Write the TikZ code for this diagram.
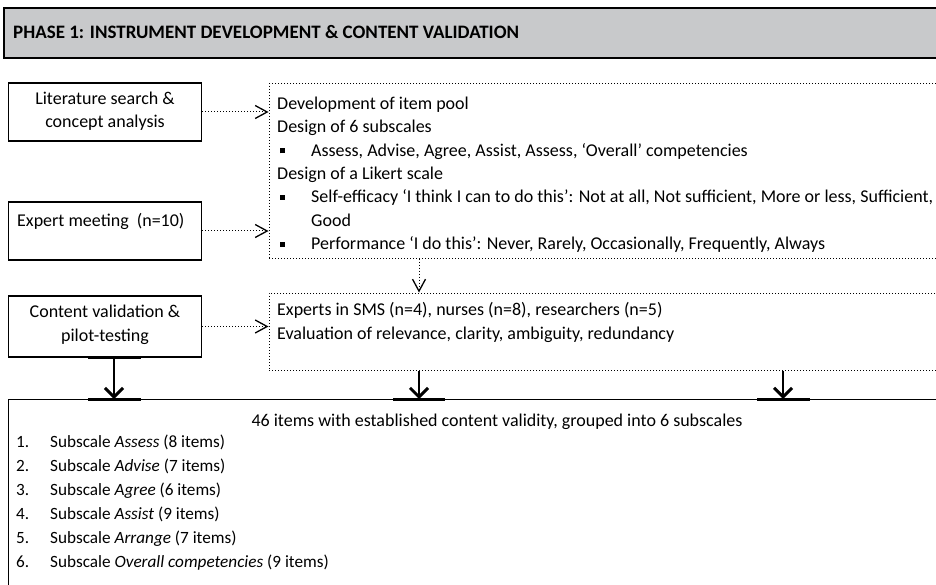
\documentclass[tikz,border=0pt]{standalone}
\usepackage{fontspec}
\setmainfont{Carlito}
\usetikzlibrary{arrows.meta}
\tikzset{
  solidbox/.style={draw=black, line width=1.4pt},
  dotbox/.style={draw=black, line width=1pt, dotted},
  txt/.style={anchor=base west, inner sep=0pt, font=\fontsize{18}{20}\selectfont},
  ctxt/.style={anchor=base, inner sep=0pt, font=\fontsize{18}{20}\selectfont},
  itxt/.style={anchor=base west, inner sep=0pt, font=\fontsize{17.2}{20}\selectfont},
  dotarrow/.style={line width=1pt, dotted, -{Straight Barb[length=12pt,width=13pt,line width=1.3pt]}},
  bigarrow/.style={line width=2.5pt, -{Straight Barb[length=9pt,width=18pt,line width=3pt]}},
  bar/.style={line width=3pt},
  bul/.style={anchor=base west, inner sep=0pt},
}
\newcommand{\sqbul}{\rule[3pt]{5pt}{5pt}}
\begin{document}
\begin{tikzpicture}[x=1pt,y=-1pt]
\useasboundingbox (0,0) rectangle (936,585);
% header
\path[fill={rgb,255:red,200;green,201;blue,203}, draw=black, line width=1.4pt] (4,8) rectangle (945,58);
\node[anchor=base west, inner sep=0pt, font=\fontsize{19}{22}\selectfont\bfseries] (hdr) at (13,39) {PHASE 1: INSTRUMENT DEVELOPMENT \& CONTENT VALIDATION};
% left boxes
\node[solidbox, minimum width=193pt, minimum height=58pt, inner sep=0pt] (lit) at (105,112) {};
\node[ctxt] (lit1) at (105,105) {Literature search \&};
\node[ctxt] (lit2) at (105,128) {concept analysis};
\node[solidbox, minimum width=193pt, minimum height=58pt, inner sep=0pt] (exp) at (105,231) {};
\node[txt] (exp1) at (17,226) {Expert meeting\ \ (n=10)};
\node[solidbox, minimum width=193pt, minimum height=61pt, inner sep=0pt] (cv) at (105,326.5) {};
\node[ctxt] (cv1) at (105,317) {Content validation \&};
\node[ctxt] (cv2) at (105,341) {pilot-testing};
% dotted boxes
\node[dotbox, minimum width=677pt, minimum height=174pt, inner sep=0pt] (dev) at (607.5,171) {};
\node[txt] (d1) at (277,109.5) {Development of item pool};
\node[txt] (d2) at (277,133) {Design of 6 subscales};
\node[bul] (b1) at (280,156.3) {\sqbul};
\node[txt] (d3) at (311,156.3) {Assess, Advise, Agree, Assist, Assess, ‘Overall’ competencies};
\node[txt] (d4) at (277,179.6) {Design of a Likert scale};
\node[bul] (b2) at (280,203) {\sqbul};
\node[txt] (d5) at (311,203) {Self-efficacy ‘I think I can to do this’: Not at all, Not sufficient, More or less, Sufficient,};
\node[txt] (d6) at (311,226.3) {Good};
\node[bul] (b3) at (280,249.6) {\sqbul};
\node[txt] (d7) at (311,249.6) {Performance ‘I do this’: Never, Rarely, Occasionally, Frequently, Always};
\node[dotbox, minimum width=677pt, minimum height=77pt, inner sep=0pt] (val) at (607.5,331.5) {};
\node[txt] (v1) at (277,315) {Experts in SMS (n=4), nurses (n=8), researchers (n=5)};
\node[txt] (v2) at (277,339) {Evaluation of relevance, clarity, ambiguity, redundancy};
% result box
\node[solidbox, minimum width=937pt, minimum height=200pt, inner sep=0pt, anchor=north west] (res) at (8,399) {};
\node[ctxt] (r0) at (497,426.5) {46 items with established content validity, grouped into 6 subscales};
\node[itxt] (n1) at (16,447.5) {1.};
\node[itxt] (t1) at (50,447.5) {Subscale \textit{Assess} (8 items)};
\node[itxt] (n2) at (16,471.5) {2.};
\node[itxt] (t2) at (50,471.5) {Subscale \textit{Advise} (7 items)};
\node[itxt] (n3) at (16,495.5) {3.};
\node[itxt] (t3) at (50,495.5) {Subscale \textit{Agree} (6 items)};
\node[itxt] (n4) at (16,519.5) {4.};
\node[itxt] (t4) at (50,519.5) {Subscale \textit{Assist} (9 items)};
\node[itxt] (n5) at (16,543.5) {5.};
\node[itxt] (t5) at (50,543.5) {Subscale \textit{Arrange} (7 items)};
\node[itxt] (n6) at (16,567.5) {6.};
\node[itxt] (t6) at (50,567.5) {Subscale \textit{Overall competencies} (9 items)};
% dotted arrows
\draw[dotarrow] (lit.east) -- (lit.east -| dev.west);
\draw[dotarrow] (exp.east) -- (exp.east -| dev.west);
\draw[dotarrow] (cv.east) -- (cv.east -| val.west);
\coordinate (ax1) at (114,0);
\coordinate (ax2) at (419,0);
\coordinate (ax3) at (783,0);
\draw[dotarrow] (dev.south -| ax2) -- (val.north -| ax2);
% solid arrows
\draw[bigarrow] (cv.south -| ax1) -- (res.north -| ax1);
\draw[bigarrow] (val.south -| ax2) -- (res.north -| ax2);
\draw[bigarrow] (val.south -| ax3) -- (res.north -| ax3);
% bars
\draw[bar] ([xshift=-26pt]cv.south -| ax1) -- ([xshift=27pt]cv.south -| ax1);
\draw[bar] ([xshift=-26pt]res.north -| ax1) -- ([xshift=27pt]res.north -| ax1);
\draw[bar] ([xshift=-26pt]res.north -| ax2) -- ([xshift=26pt]res.north -| ax2);
\draw[bar] ([xshift=-26pt]res.north -| ax3) -- ([xshift=27pt]res.north -| ax3);
\end{tikzpicture}
\end{document}
